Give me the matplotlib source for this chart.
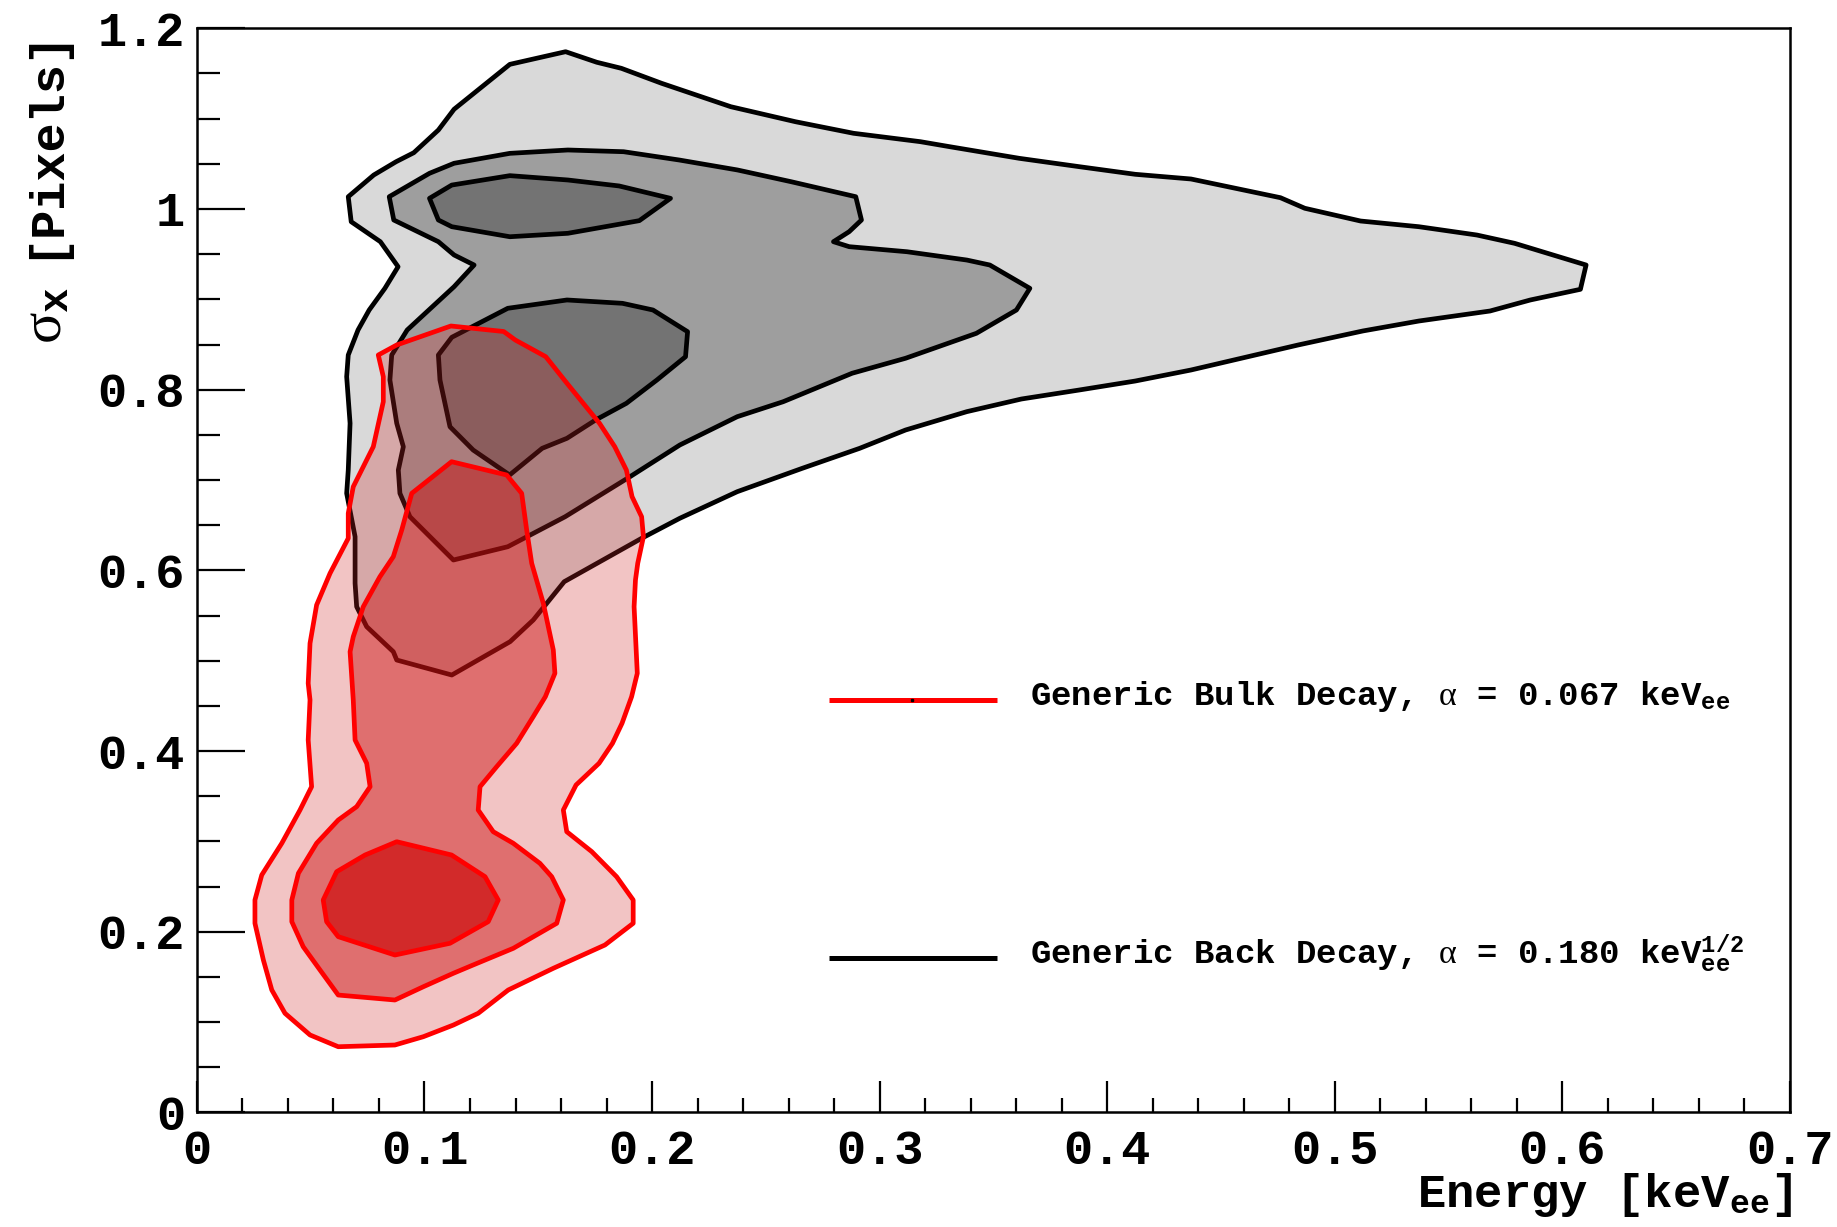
import numpy as np
import matplotlib
matplotlib.use("Agg")
import matplotlib.pyplot as plt
from matplotlib.ticker import FixedLocator, MultipleLocator

plt.rcParams['font.family'] = ['Liberation Mono', 'DejaVu Sans Mono']
plt.rcParams['font.weight'] = 'bold'
plt.rcParams['mathtext.fontset'] = 'custom'
plt.rcParams['mathtext.it'] = 'Liberation Serif:style=normal:weight=normal'
plt.rcParams['mathtext.rm'] = 'Liberation Serif:style=normal:weight=normal'
plt.rcParams['mathtext.bf'] = 'Liberation Mono:weight=bold'

# contour outlines: (energy [keVee], sigma_x [pixels])
back_outer = [
    (0.1620, 1.1741), (0.1757, 1.1624), (0.1865, 1.1557), (0.2042, 1.1391), (0.2346, 1.1132),
    (0.2630, 1.0966), (0.2885, 1.0838), (0.3179, 1.0745), (0.3309, 1.0689), (0.3613, 1.0561),
    (0.3878, 1.0468), (0.4123, 1.0384), (0.4368, 1.0332), (0.4761, 1.0125), (0.4868, 1.0008),
    (0.5113, 0.9867), (0.5369, 0.9804), (0.5624, 0.9712), (0.5790, 0.9620), (0.6104, 0.9380),
    (0.6079, 0.9111), (0.5859, 0.8993), (0.5682, 0.8871), (0.5369, 0.8760), (0.5123, 0.8650),
    (0.4839, 0.8495), (0.4368, 0.8218), (0.4123, 0.8096), (0.3878, 0.7997), (0.3623, 0.7897),
    (0.3383, 0.7757), (0.3114, 0.7554), (0.2912, 0.7351), (0.2660, 0.7130), (0.2374, 0.6871),
    (0.2122, 0.6577), (0.1954, 0.6355), (0.1614, 0.5875), (0.1478, 0.5451), (0.1376, 0.5211),
    (0.1120, 0.4842), (0.0878, 0.5008), (0.0863, 0.5100), (0.0746, 0.5377), (0.0702, 0.5598),
    (0.0695, 0.5857), (0.0695, 0.6373), (0.0658, 0.6853), (0.0665, 0.7111), (0.0673, 0.7628),
    (0.0658, 0.8144), (0.0665, 0.8384), (0.0708, 0.8661), (0.0757, 0.8882), (0.0826, 0.9122),
    (0.0884, 0.9361), (0.0806, 0.9638), (0.0678, 0.9859), (0.0665, 1.0136), (0.0777, 1.0376),
    (0.0875, 1.0523), (0.0953, 1.0623), (0.1061, 1.0874), (0.1130, 1.1104), (0.1375, 1.1601),
]
back_mid = [
    (0.1130, 1.0506), (0.1375, 1.0616), (0.1630, 1.0653), (0.1875, 1.0634), (0.2120, 1.0542),
    (0.2375, 1.0432), (0.2611, 1.0302), (0.2895, 1.0136), (0.2920, 0.9878), (0.2866, 0.9749),
    (0.2797, 0.9638), (0.2866, 0.9583), (0.3120, 0.9527), (0.3383, 0.9435), (0.3484, 0.9380),
    (0.3660, 0.9122), (0.3601, 0.8882), (0.3425, 0.8624), (0.3114, 0.8348), (0.2879, 0.8182),
    (0.2576, 0.7867), (0.2374, 0.7701), (0.2122, 0.7388), (0.1903, 0.7037), (0.1618, 0.6594),
    (0.1366, 0.6262), (0.1127, 0.6115), (0.0936, 0.6594), (0.0892, 0.6853), (0.0885, 0.7111),
    (0.0907, 0.7369), (0.0878, 0.7628), (0.0848, 0.8107), (0.0856, 0.8384), (0.0924, 0.8661),
    (0.1130, 0.9140), (0.1218, 0.9380), (0.1130, 0.9491), (0.1061, 0.9638), (0.0865, 0.9878),
    (0.0845, 1.0136), (0.1022, 1.0395),
]
back_inner_top = [
    (0.1022, 1.0118), (0.1120, 1.0265), (0.1375, 1.0369), (0.1630, 1.0321), (0.1855, 1.0255),
    (0.2081, 1.0118), (0.1944, 0.9871), (0.1630, 0.9731), (0.1375, 0.9693), (0.1120, 0.9804),
    (0.1061, 0.9878),
]
back_inner_low = [
    (0.1061, 0.8384), (0.1120, 0.8580), (0.1366, 0.8901), (0.1626, 0.8993), (0.1870, 0.8956),
    (0.2004, 0.8882), (0.2156, 0.8642), (0.2147, 0.8365), (0.2021, 0.8107), (0.1887, 0.7849),
    (0.1752, 0.7665), (0.1626, 0.7462), (0.1517, 0.7351), (0.1374, 0.7056), (0.1214, 0.7332),
    (0.1112, 0.7590), (0.1068, 0.8107),
]
bulk_outer = [
    (0.0797, 0.8384), (0.0878, 0.8495), (0.1116, 0.8705), (0.1348, 0.8644), (0.1399, 0.8550),
    (0.1533, 0.8365), (0.1626, 0.8071), (0.1769, 0.7628), (0.1836, 0.7369), (0.1887, 0.7111),
    (0.1912, 0.6816), (0.1954, 0.6594), (0.1962, 0.6373), (0.1937, 0.6079), (0.1927, 0.5894),
    (0.1921, 0.5598), (0.1935, 0.4861), (0.1910, 0.4602), (0.1868, 0.4308), (0.1826, 0.4086),
    (0.1767, 0.3865), (0.1666, 0.3625), (0.1610, 0.3348), (0.1625, 0.3108), (0.1735, 0.2887),
    (0.1844, 0.2610), (0.1917, 0.2352), (0.1917, 0.2094), (0.1793, 0.1854), (0.1566, 0.1596),
    (0.1368, 0.1356), (0.1236, 0.1098), (0.1127, 0.0968), (0.0995, 0.0839), (0.0870, 0.0747),
    (0.0621, 0.0728), (0.0497, 0.0858), (0.0387, 0.1098), (0.0329, 0.1356), (0.0292, 0.1688),
    (0.0255, 0.2094), (0.0255, 0.2352), (0.0285, 0.2629), (0.0373, 0.2980), (0.0453, 0.3348),
    (0.0504, 0.3606), (0.0489, 0.4123), (0.0497, 0.4566), (0.0489, 0.4750), (0.0497, 0.5193),
    (0.0526, 0.5617), (0.0585, 0.5968), (0.0665, 0.6355), (0.0665, 0.6632), (0.0687, 0.6926),
    (0.0775, 0.7369), (0.0819, 0.7867), (0.0819, 0.8144),
]
bulk_mid = [
    (0.1119, 0.7203), (0.1361, 0.7056), (0.1427, 0.6853), (0.1449, 0.6447), (0.1471, 0.6079),
    (0.1522, 0.5636), (0.1566, 0.5119), (0.1573, 0.4861), (0.1531, 0.4602), (0.1478, 0.4382),
    (0.1405, 0.4086), (0.1317, 0.3827), (0.1244, 0.3606), (0.1236, 0.3348), (0.1302, 0.3108),
    (0.1390, 0.2980), (0.1507, 0.2758), (0.1559, 0.2610), (0.1610, 0.2352), (0.1581, 0.2094),
    (0.1390, 0.1817), (0.1214, 0.1633), (0.1127, 0.1541), (0.0995, 0.1392), (0.0870, 0.1245),
    (0.0621, 0.1300), (0.0541, 0.1577), (0.0467, 0.1835), (0.0417, 0.2112), (0.0417, 0.2352),
    (0.0446, 0.2648), (0.0526, 0.2980), (0.0621, 0.3237), (0.0702, 0.3385), (0.0761, 0.3606),
    (0.0746, 0.3865), (0.0695, 0.4123), (0.0687, 0.4566), (0.0673, 0.5100), (0.0687, 0.5266),
    (0.0731, 0.5598), (0.0804, 0.5930), (0.0863, 0.6152), (0.0900, 0.6447), (0.0944, 0.6853),
]
bulk_inner = [
    (0.0555, 0.2352), (0.0614, 0.2665), (0.0739, 0.2850), (0.0878, 0.2997), (0.1119, 0.2850),
    (0.1266, 0.2610), (0.1324, 0.2352), (0.1280, 0.2112), (0.1112, 0.1873), (0.0870, 0.1743),
    (0.0621, 0.1946), (0.0570, 0.2112),
]

legend_labels = [r"Generic Bulk Decay, $\alpha$ = 0.067 keV$_{\mathbf{ee}}$",
                 r"Generic Back Decay, $\alpha$ = 0.180 keV$^{\mathbf{1/2}}_{\mathbf{ee}}$"]
x_ticks = [0, 0.1, 0.2, 0.3, 0.4, 0.5, 0.6, 0.7]
x_ticklabels = ["0", "0.1", "0.2", "0.3", "0.4", "0.5", "0.6", "0.7"]
y_ticks = [0, 0.2, 0.4, 0.6, 0.8, 1.0, 1.2]
y_ticklabels = ["0", "0.2", "0.4", "0.6", "0.8", "1", "1.2"]

fig = plt.figure(figsize=(18.37, 12.27), dpi=100)
ax = fig.add_axes([0.10719, 0.09332, 0.86723, 0.88362])

def draw(poly, face, edge, lw=3.4):
    xy = np.array(poly)
    ax.fill(xy[:, 0], xy[:, 1], facecolor=face, edgecolor=edge, linewidth=lw, joinstyle='round')

# back decay (grey, opaque)
draw(back_outer, '#d9d9d9', 'black')
draw(back_mid, '#9e9e9e', 'black')
draw(back_inner_top, '#737373', 'black')
draw(back_inner_low, '#737373', 'black')

# bulk decay (red, translucent stacked)
draw(bulk_outer, (207/255, 37/255, 37/255, 0.27), 'red')
draw(bulk_mid, (202/255, 9/255, 9/255, 0.45), 'red')
draw(bulk_inner, (205/255, 13/255, 13/255, 0.70), 'red')

# legend
leg_y = [0.4565, 0.1707]
leg_colors = ['red', 'black']
for yy, col, lab in zip(leg_y, leg_colors, legend_labels):
    ax.plot([0.2777, 0.3515], [yy, yy], color=col, lw=3.6, solid_capstyle='butt')
    ax.text(0.3660, yy - 0.006, lab, fontsize=24.5, fontweight='bold', va='baseline', ha='left')
ax.plot([0.3144], [leg_y[0]], marker='s', ms=1.5, color='black', ls='none')

ax.set_xlim(0, 0.7)
ax.set_ylim(0, 1.2)
ax.xaxis.set_major_locator(FixedLocator(x_ticks))
ax.yaxis.set_major_locator(FixedLocator(y_ticks))
ax.xaxis.set_minor_locator(MultipleLocator(0.02))
ax.yaxis.set_minor_locator(MultipleLocator(0.05))
ax.set_xticklabels(x_ticklabels)
ax.set_yticklabels(y_ticklabels)
ax.tick_params(axis='both', which='both', direction='in', width=1.6, top=False, right=False,
               labelsize=35)
ax.tick_params(axis='x', which='major', length=22, pad=12)
ax.tick_params(axis='x', which='minor', length=10.3)
ax.tick_params(axis='y', which='major', length=34.3, pad=8.5)
ax.tick_params(axis='y', which='minor', length=16.6)
for lab in ax.get_xticklabels() + ax.get_yticklabels():
    lab.set_fontweight('bold')
for sp in ax.spines.values():
    sp.set_linewidth(1.8)

fig.text(1792 / 1837, 1 - 1207 / 1227, r"Energy [keV$_{\mathbf{ee}}$]", fontsize=34,
         fontweight='bold', ha='right', va='baseline')
fig.text(44 / 1837, 1 - 26 / 1227, "[Pixels]", fontsize=35,
         fontweight='bold', rotation=90, ha='center', va='top')
fig.text(46 / 1837, 1 - 344 / 1227, r"$\sigma_{\mathbf{x}}$", fontsize=42,
         fontweight='normal', rotation=90, ha='center', va='bottom')

fig.savefig("out.png", dpi=100)
